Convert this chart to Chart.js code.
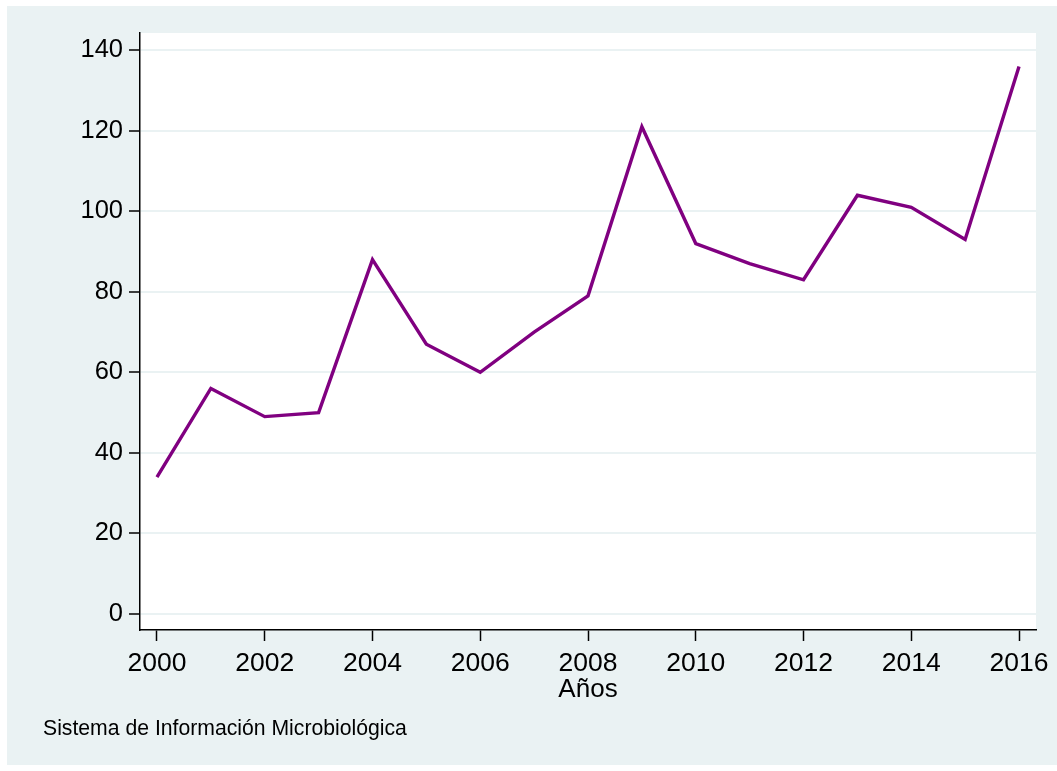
<!DOCTYPE html>
<html>
<head>
<meta charset="utf-8">
<script src="https://cdn.jsdelivr.net/npm/chart.js@4.4.1/dist/chart.umd.min.js"></script>
<style>
  html, body { margin: 0; padding: 0; background: #ffffff; }
  #wrap { width: 1057px; height: 771px; position: relative; }
</style>
</head>
<body>
<div id="wrap"><canvas id="chart" width="1057" height="771"></canvas></div>
<script>
// data
const years = [2000, 2001, 2002, 2003, 2004, 2005, 2006, 2007, 2008, 2009, 2010, 2011, 2012, 2013, 2014, 2015, 2016];
const cases = [34, 56, 49, 50, 88, 67, 60, 70, 79, 121, 92, 87, 83, 104, 101, 93, 136];
const xTicks = [2000, 2002, 2004, 2006, 2008, 2010, 2012, 2014, 2016];
const yTicks = [0, 20, 40, 60, 80, 100, 120, 140];
const xTitle = "Años";
const note = "Sistema de Información Microbiológica";

const bgColor = '#eaf2f3';
const fontFam = '"Liberation Sans", Arial, sans-serif';

// Stata-like background: bluish outer region, white plot region, plus texts
const stataLook = {
    id: 'stataLook',
    beforeDraw(chart) {
        const c = chart.ctx, a = chart.chartArea;
        c.save();
        c.fillStyle = bgColor;
        c.fillRect(7, 6, 1050, 759);
        c.fillStyle = '#ffffff';
        c.fillRect(a.left, a.top, a.right - a.left, a.bottom - a.top);
        c.restore();
    },
    afterDraw(chart) {
        const c = chart.ctx, a = chart.chartArea;
        c.save();
        c.fillStyle = '#000000';
        c.textBaseline = 'alphabetic';
        c.font = '26px ' + fontFam;
        c.textAlign = 'center';
        c.fillText(xTitle, (a.left + a.right) / 2, 697);
        c.font = '21.2px ' + fontFam;
        c.textAlign = 'left';
        c.fillText(note, 43, 735);
        c.restore();
    }
};

const ctx = document.getElementById('chart').getContext('2d');

const data = {
    datasets: [
        {
            data: years.map((y, i) => ({ x: y, y: cases[i] })),
            borderColor: '#800080',
            borderWidth: 3.4,
            pointRadius: 0,
            tension: 0,
            fill: false,
        },
    ],
};

const config = {
    type: 'line',
    data: data,
    plugins: [stataLook],
    options: {
        responsive: false,
        animation: false,
        layout: { padding: { top: 33, right: 21, left: 0, bottom: 0 } },
        plugins: {
            legend: { display: false },
            tooltip: { enabled: false },
        },
        scales: {
            x: {
                type: 'linear',
                min: 1999.685,
                max: 2016.315,
                afterBuildTicks: (scale) => {
                    scale.ticks = xTicks.map(v => ({ value: v }));
                },
                afterFit: (scale) => { scale.height = 141; },
                grid: {
                    drawOnChartArea: false,
                    drawTicks: true,
                    tickLength: 11,
                    tickColor: '#000000',
                    tickWidth: 1.5,
                },
                border: { display: true, color: '#000000', width: 1.5 },
                ticks: {
                    color: '#000000',
                    font: { family: fontFam, size: 26.5 },
                    padding: 7,
                    maxRotation: 0,
                    autoSkip: false,
                    callback: (v) => String(v),
                },
            },
            y: {
                min: -4,
                max: 144.3,
                afterBuildTicks: (scale) => {
                    scale.ticks = yTicks.map(v => ({ value: v }));
                },
                afterFit: (scale) => { scale.width = 140; },
                grid: {
                    color: bgColor,
                    lineWidth: 2,
                    drawTicks: true,
                    tickLength: 11,
                    tickColor: '#000000',
                    tickWidth: 1.5,
                },
                border: { display: true, color: '#000000', width: 1.5 },
                ticks: {
                    color: '#000000',
                    font: { family: fontFam, size: 25.5 },
                    padding: 6,
                    autoSkip: false,
                },
            },
        },
    },
};

const myChart = new Chart(ctx, config);
</script>
</body>
</html>
